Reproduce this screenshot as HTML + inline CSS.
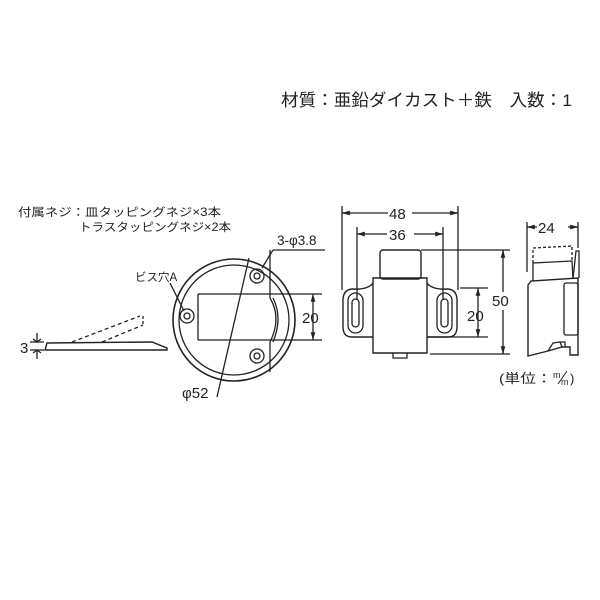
<!DOCTYPE html>
<html><head><meta charset="utf-8"><style>
html,body{margin:0;padding:0;background:#fff;}
svg{display:block;}
text{font-family:"Liberation Sans","Noto Sans CJK JP",sans-serif;fill:#222;}
</style></head><body>
<svg width="600" height="600" viewBox="0 0 600 600" xmlns="http://www.w3.org/2000/svg">
<defs>
<marker id="a" viewBox="0 0 10 10" refX="10" refY="5" markerWidth="6" markerHeight="6" orient="auto-start-reverse"><path d="M0,2 L10,5 L0,8 z" fill="#222"/></marker>
</defs>
<text x="281" y="106" font-size="17" textLength="291" lengthAdjust="spacingAndGlyphs">材質：亜鉛ダイカスト＋鉄　入数：1</text>
<text x="18" y="216" font-size="11.5" textLength="203" lengthAdjust="spacingAndGlyphs">付属ネジ：皿タッピングネジ×3本</text>
<text x="79" y="231" font-size="11.5" textLength="152" lengthAdjust="spacingAndGlyphs">トラスタッピングネジ×2本</text>

<g stroke="#222" fill="none" stroke-width="1.3">
<!-- side plate -->
<path d="M47,343 L152,342 L167,348 L167,350 L45,350 Z" stroke-width="1.4"/>
<path d="M72,342 L140,316 M102,342 L143,325" stroke-dasharray="4,3"/>
<path d="M143,316 L143,325" stroke-dasharray="3,2"/>
<path d="M30,342 L44,342 M30,350 L44,350"/>
<path d="M37,333 L37,342 M37,350 L37,359"/>
<path d="M33,339 L37,342 L41,339 M33,353 L37,350 L41,353"/>
<!-- round plate -->
<circle cx="234" cy="320" r="61" stroke-width="1.6"/>
<circle cx="234" cy="320" r="55"/>
<path d="M198,294 L273,294 M198,340 L273,340 M198,294 L198,340"/>
<path d="M270,250 L270,298 Q282,318 270,342 L270,372" />
<path d="M273,298 Q283,318 273,342"/>
<g>
<circle cx="257" cy="276" r="7"/><circle cx="257" cy="276" r="3"/>
<circle cx="187" cy="316" r="7"/><circle cx="187" cy="316" r="3"/>
<circle cx="257" cy="356" r="7"/><circle cx="257" cy="356" r="3"/>
</g>
<path d="M273,294 L322,294 M273,340 L322,340"/>
<path d="M313,294 L313,340" marker-start="url(#a)" marker-end="url(#a)"/>
<path d="M273,250 L325,250 M273,250 L262,268"/>
<path d="M249,258 L217,397"/>
<path d="M170,283 L184,311"/>
<!-- front view -->
<path d="M342,206 L342,290 M458,206 L458,290 M357,227 L357,300 M443,227 L443,300"/>
<path d="M342,213 L388,213 M412,213 L458,213" />
<path d="M342,213 L346,213" marker-start="url(#a)"/>
<path d="M454,213 L458,213" marker-end="url(#a)"/>
<path d="M357,234 L387,234 M414,234 L443,234"/>
<path d="M357,234 L361,234" marker-start="url(#a)"/>
<path d="M439,234 L443,234" marker-end="url(#a)"/>
<rect x="380" y="250" width="41" height="29" rx="3" stroke-width="1.4"/>
<path d="M373,278 L427,278 L427,353 L373,353 Z" stroke-width="1.4"/>
<path d="M373,283 Q368,290 352,289 Q342,290 343,303 L343,327 Q343,337 352,337 L373,337" stroke-width="1.4"/>
<path d="M427,283 Q432,290 448,289 Q458,290 457,303 L457,327 Q457,337 448,337 L427,337" stroke-width="1.4"/>
<rect x="348" y="293" width="15" height="40" rx="7.5"/>
<rect x="352" y="299" width="7" height="28" rx="3.5"/>
<rect x="437" y="293" width="15" height="40" rx="7.5"/>
<rect x="441" y="299" width="7" height="28" rx="3.5"/>
<path d="M393,353 L393,358 L407,358 L407,353"/>
<path d="M460,288 L488,288 M427,337 L488,337"/>
<path d="M478,288 L478,337" marker-start="url(#a)" marker-end="url(#a)"/>
<path d="M421,250 L510,250 M430,354 L510,354"/>
<path d="M503,250 L503,292 M503,310 L503,354"/>
<path d="M503,250 L503,254" marker-start="url(#a)"/>
<path d="M503,350 L503,354" marker-end="url(#a)"/>
<!-- side view -->
<path d="M527,222 L527,272 M578,222 L578,248"/>
<path d="M527,227 L531,227" marker-start="url(#a)"/>
<path d="M574,227 L578,227" marker-end="url(#a)"/>
<path d="M527,227 L537,227 M568,227 L578,227"/>
<path d="M533,263 L533,248 L572,246 L572,262" stroke-dasharray="3,2"/>
<path d="M533,281 L533,263 L572,261 L573,279"/>
<path d="M573,279 L576,251 L579,251 L579,278"/>
<path d="M528,285 L531,281 L578,278 L578,355 L570,355 L570,347 L562,347 L548,351 L528,356 Z" stroke-width="1.4"/>
<rect x="564" y="283" width="14" height="52" rx="2"/>
<path d="M548,351 L553,343 L560,342 L562,347 M560,342 L565,342 L565,347"/>
</g>
<text x="20" y="353" font-size="15">3</text>
<text x="302" y="323" font-size="15">20</text>
<text x="277" y="245" font-size="13.5">3-φ3.8</text>
<text x="135" y="281" font-size="11.5">ビス穴A</text>
<text x="182" y="398" font-size="15">φ52</text>
<text x="389" y="219" font-size="15">48</text>
<text x="389" y="240" font-size="15">36</text>
<text x="467" y="321" font-size="15">20</text>
<text x="492" y="306" font-size="15">50</text>
<text x="538" y="233" font-size="15">24</text>
<text x="499" y="383" font-size="13" textLength="53" lengthAdjust="spacingAndGlyphs">(単位：</text>
<text x="553" y="378" font-size="9">m</text>
<path d="M567,371 L558,384" stroke="#222" stroke-width="1"/>
<text x="561" y="385" font-size="9">m</text>
<text x="570" y="383" font-size="13">)</text>
</svg>
</body></html>
